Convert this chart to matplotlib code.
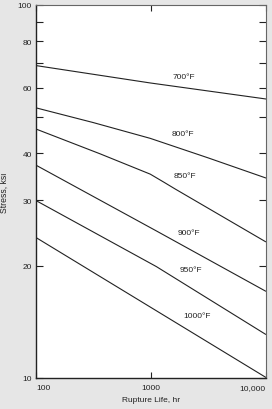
import matplotlib
matplotlib.use("Agg")
import matplotlib.pyplot as plt
from matplotlib.ticker import FixedLocator, NullFormatter, NullLocator

plt.rcParams["font.family"] = ["Liberation Sans", "DejaVu Sans"]

# rupture life (hr) and stress (ksi), per temperature
hours_700 = [100, 990, 10000]
stress_700 = [68.8, 61.8, 56.0]
hours_800 = [100, 315, 990, 3177, 10000]
stress_800 = [53.0, 48.4, 43.9, 38.9, 34.4]
hours_850 = [100, 362, 990, 1300, 1637, 10000]
stress_850 = [46.5, 39.9, 35.2, 33.5, 32.1, 23.2]
hours_900 = [100, 1117, 10000]
stress_900 = [37.2, 24.8, 17.1]
hours_950 = [100, 1117, 10000]
stress_950 = [29.9, 19.9, 13.1]
hours_1000 = [100, 1117, 10000]
stress_1000 = [23.8, 15.15, 10.05]

curves = [
    ("700°F", hours_700, stress_700, (1923, 64.5)),
    ("800°F", hours_800, stress_800, (1923, 45.1)),
    ("850°F", hours_850, stress_850, (2000, 34.8)),
    ("900°F", hours_900, stress_900, (2168, 24.5)),
    ("950°F", hours_950, stress_950, (2259, 19.5)),
    ("1000°F", hours_1000, stress_1000, (2547, 14.7)),
]

y_major = [10, 20, 30, 40, 60, 80, 100]
y_minor = [50, 70, 90]
x_ticks = [100, 1000, 10000]
x_labels = ["100", "1000", "10,000"]

fig = plt.figure(figsize=(2.72, 4.10), dpi=100, facecolor="#e6e6e6")
ax = fig.add_axes([36 / 272, 31 / 410, 229.5 / 272, 373 / 410])
ax.set_facecolor("white")

for name, h, s, pos in curves:
    ax.plot(h, s, color="#222222", lw=0.8)
    ax.text(pos[0], pos[1], name, fontsize=6, ha="center", va="center", color="#222222")

ax.set_xscale("log")
ax.set_yscale("log")
ax.set_xlim(100, 10000)
ax.set_ylim(10, 100)

ax.yaxis.set_major_locator(FixedLocator(y_major))
ax.set_yticklabels([str(v) for v in y_major])
ax.yaxis.set_minor_locator(FixedLocator(y_minor))
ax.yaxis.set_minor_formatter(NullFormatter())
ax.xaxis.set_major_locator(FixedLocator(x_ticks))
ax.set_xticklabels(x_labels)
ax.xaxis.set_minor_locator(NullLocator())
for lab, ha in zip(ax.get_xticklabels(), ["left", "center", "right"]):
    lab.set_ha(ha)

ax.tick_params(axis="y", which="both", direction="in", left=True, right=True,
               length=5, width=0.8, labelsize=6, pad=3, colors="#222222")
ax.tick_params(axis="x", which="both", direction="in", top=True, bottom=True,
               length=4, width=0.8, labelsize=6, pad=4, colors="#222222")

for side in ["left", "bottom"]:
    ax.spines[side].set_color("#222222")
    ax.spines[side].set_linewidth(1.0)
for side in ["top", "right"]:
    ax.spines[side].set_color("#666666")
    ax.spines[side].set_linewidth(0.8)

ax.set_xlabel("Rupture Life, hr", fontsize=6, labelpad=4, color="#222222")
ax.set_ylabel("Stress, ksi", fontsize=6.2, labelpad=6, color="#222222")

plt.savefig("out.png", dpi=100, facecolor=fig.get_facecolor())
